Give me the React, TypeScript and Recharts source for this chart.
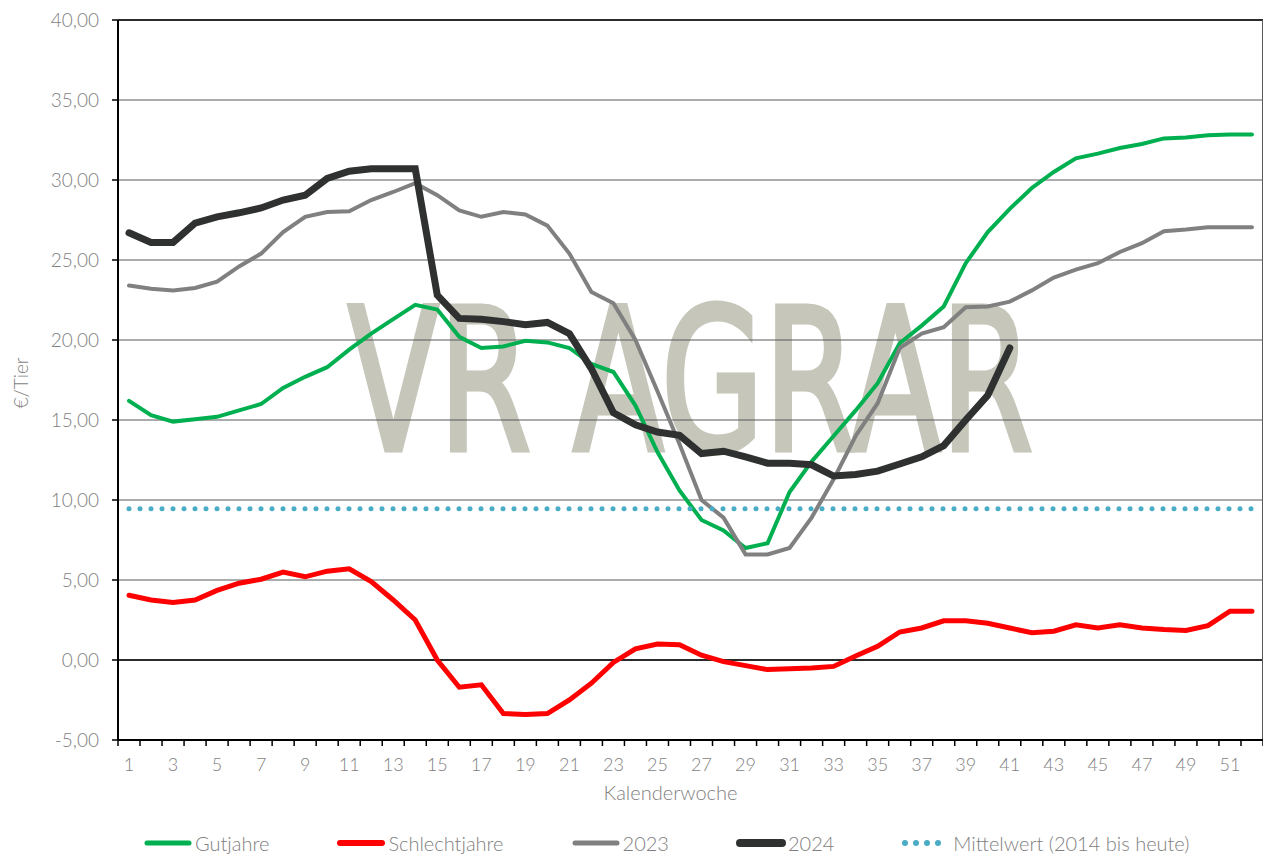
import React from 'react';
import {
  LineChart,
  Line,
  XAxis,
  YAxis,
  CartesianGrid,
  ReferenceLine,
  Legend,
} from 'recharts';

// ─── Data ────────────────────────────────────────────────────────────────────

const WEEKS = Array.from({ length: 52 }, (_, i) => i + 1);

const GUTJAHRE = [
  16.2, 15.3, 14.9, 15.05, 15.2, 15.6, 16.0, 17.0, 17.7, 18.3,
  19.4, 20.4, 21.3, 22.2, 21.9, 20.2, 19.5, 19.6, 19.95, 19.85,
  19.5, 18.5, 18.0, 15.9, 13.0, 10.6, 8.75, 8.1, 7.0, 7.3,
  10.5, 12.4, 14.0, 15.6, 17.3, 19.8, 20.9, 22.1, 24.8, 26.75,
  28.2, 29.5, 30.5, 31.35, 31.65, 32.0, 32.25, 32.6, 32.65, 32.8,
  32.85, 32.85,
];

const SCHLECHTJAHRE = [
  4.05, 3.75, 3.6, 3.75, 4.35, 4.8, 5.05, 5.5, 5.2, 5.55,
  5.7, 4.9, 3.75, 2.5, 0.0, -1.7, -1.55, -3.35, -3.4, -3.35,
  -2.5, -1.45, -0.15, 0.7, 1.0, 0.95, 0.3, -0.1, -0.35, -0.6,
  -0.55, -0.5, -0.4, 0.25, 0.85, 1.75, 2.0, 2.45, 2.45, 2.3,
  2.0, 1.7, 1.8, 2.2, 2.0, 2.2, 2.0, 1.9, 1.85, 2.15,
  3.05, 3.05,
];

const Y2023 = [
  23.4, 23.2, 23.1, 23.25, 23.65, 24.6, 25.4, 26.75, 27.7, 28.0,
  28.05, 28.75, 29.25, 29.8, 29.05, 28.1, 27.7, 28.0, 27.85, 27.15,
  25.4, 23.0, 22.3, 20.0, 16.8, 13.5, 10.0, 8.9, 6.6, 6.6,
  7.0, 8.9, 11.3, 14.0, 16.05, 19.5, 20.4, 20.8, 22.05, 22.1,
  22.4, 23.1, 23.9, 24.4, 24.8, 25.5, 26.05, 26.8, 26.9, 27.05,
  27.05, 27.05,
];

const Y2024 = [
  26.7, 26.1, 26.1, 27.3, 27.7, 27.95, 28.25, 28.75, 29.05, 30.1,
  30.55, 30.7, 30.7, 30.7, 22.8, 21.35, 21.3, 21.15, 20.95, 21.1,
  20.4, 18.2, 15.45, 14.7, 14.25, 14.05, 12.9, 13.05, 12.7, 12.3,
  12.3, 12.2, 11.5, 11.6, 11.8, 12.25, 12.7, 13.4, 15.0, 16.55,
  19.5,
];

const MITTELWERT = 9.45;

const Y_TICKS = [-5, 0, 5, 10, 15, 20, 25, 30, 35, 40];
const X_LABEL_WEEKS = WEEKS.filter((w) => w % 2 === 1);
const X_BOUNDARIES = [...WEEKS.map((w) => w - 0.5), 52.5];

// ─── Styles ──────────────────────────────────────────────────────────────────

const FONT = 'Lato, "Open Sans", sans-serif';
const TEXT_COLOR = '#7f7f7f';
const WATERMARK = '#C6C7BA';

const SERIES = [
  { key: 'gut', name: 'Gutjahre', color: '#00B050', width: 4, dotted: false },
  { key: 'schlecht', name: 'Schlechtjahre', color: '#FF0000', width: 5, dotted: false },
  { key: 'y2023', name: '2023', color: '#808080', width: 4, dotted: false },
  { key: 'y2024', name: '2024', color: '#2F3030', width: 7, dotted: false },
  { key: 'mittel', name: 'Mittelwert (2014 bis heute)', color: '#4BACC6', width: 5, dotted: true },
];

const chartData = WEEKS.map((week, i) => ({
  week,
  gut: GUTJAHRE[i],
  schlecht: SCHLECHTJAHRE[i],
  y2023: Y2023[i],
  y2024: Y2024[i] ?? null,
  mittel: MITTELWERT,
}));

// ─── Legend ──────────────────────────────────────────────────────────────────

function LegendContent() {
  return (
    <div
      style={{
        display: 'flex',
        alignItems: 'center',
        height: 26,
        paddingLeft: 135,
        gap: 67,
        fontFamily: FONT,
        fontWeight: 300,
        fontSize: 20,
        color: TEXT_COLOR,
      }}
    >
      {SERIES.map((s) => (
        <div key={s.key} style={{ display: 'flex', alignItems: 'center' }}>
          <svg width={50} height={12} style={{ marginRight: 2 }}>
            <line
              x1={4}
              x2={s.dotted ? 48 : 46}
              y1={6}
              y2={6}
              stroke={s.color}
              strokeWidth={s.width + 1}
              strokeLinecap="round"
              strokeDasharray={s.dotted ? '0 11' : undefined}
            />
          </svg>
          <span>{s.name}</span>
        </div>
      ))}
    </div>
  );
}

// ─── Chart ───────────────────────────────────────────────────────────────────

export default function App() {
  return (
    <div style={{ position: 'relative', width: 1256, height: 848 }}>
      <svg
        width={1256}
        height={848}
        style={{ position: 'absolute', left: 0, top: 0 }}
      >
        <text
          x={340}
          y={442}
          fontSize={198}
          fontFamily='"Liberation Sans Narrow", "DejaVu Sans Condensed", sans-serif'
          fill={WATERMARK}
          stroke={WATERMARK}
          strokeWidth={5}
          textLength={685}
          lengthAdjust="spacingAndGlyphs"
        >
          VR AGRAR
        </text>
      </svg>
      <LineChart
        width={1256}
        height={848}
        data={chartData}
        margin={{ top: 12, right: 1, bottom: 0, left: 0 }}
      >
        <CartesianGrid
          xAxisId="b_labels"
          vertical={false}
          stroke="#595959"
          strokeWidth={1}
        />
        <XAxis
          xAxisId="b_labels"
          dataKey="week"
          type="number"
          domain={[0.5, 52.5]}
          ticks={X_LABEL_WEEKS}
          interval={0}
          height={89}
          axisLine={false}
          tickLine={false}
          tickSize={6}
          tickMargin={11}
          tick={{ fill: TEXT_COLOR, fontSize: 18, fontFamily: FONT, fontWeight: 300 }}
          allowDataOverflow
          label={({ viewBox }: any) => (
            <text
              x={viewBox.x + viewBox.width / 2 - 20}
              y={viewBox.y + 59}
              textAnchor="middle"
              fill={TEXT_COLOR}
              fontSize={20}
              fontFamily={FONT}
              fontWeight={300}
            >
              Kalenderwoche
            </text>
          )}
        />
        <XAxis
          xAxisId="a_ticks"
          dataKey="week"
          type="number"
          domain={[0.5, 52.5]}
          ticks={X_BOUNDARIES}
          interval={0}
          height={1}
          tickFormatter={() => ''}
          axisLine={{ stroke: '#000', strokeWidth: 2 }}
          tickLine={{ stroke: '#000', strokeWidth: 1.5 }}
          tickSize={6}
          allowDataOverflow
        />
        <YAxis
          domain={[-5, 40]}
          ticks={Y_TICKS}
          interval={0}
          width={110}
          allowDataOverflow
          tickFormatter={(v: number) => v.toFixed(2).replace('.', ',')}
          axisLine={{ stroke: '#000', strokeWidth: 2 }}
          tickLine={{ stroke: '#000', strokeWidth: 1.5 }}
          tickSize={6}
          tickMargin={13}
          tick={{ fill: TEXT_COLOR, fontSize: 19, fontFamily: FONT, fontWeight: 300 }}
          label={({ viewBox }: any) => (
            <text
              x={20}
              y={viewBox.y + viewBox.height / 2 + 3}
              transform={`rotate(-90, 20, ${viewBox.y + viewBox.height / 2 + 3})`}
              textAnchor="middle"
              fill={TEXT_COLOR}
              fontSize={19}
              fontFamily={FONT}
              fontWeight={300}
            >
              €/Tier
            </text>
          )}
        />
        <ReferenceLine xAxisId="b_labels" y={0} stroke="#000" strokeWidth={1.5} />
        <ReferenceLine xAxisId="b_labels" y={40} stroke="#000" strokeWidth={1.5} />
        <ReferenceLine xAxisId="b_labels" x={52.5} stroke="#595959" strokeWidth={2} />
        {SERIES.map((s) => (
          <Line
            key={s.key}
            xAxisId="b_labels"
            type="linear"
            dataKey={s.key}
            name={s.name}
            stroke={s.color}
            strokeWidth={s.width}
            strokeLinecap="round"
            strokeDasharray={s.dotted ? '0 11' : undefined}
            dot={false}
            activeDot={false}
            connectNulls={false}
            isAnimationActive={false}
          />
        ))}
        <Legend verticalAlign="bottom" content={() => <LegendContent />} />
      </LineChart>
    </div>
  );
}
